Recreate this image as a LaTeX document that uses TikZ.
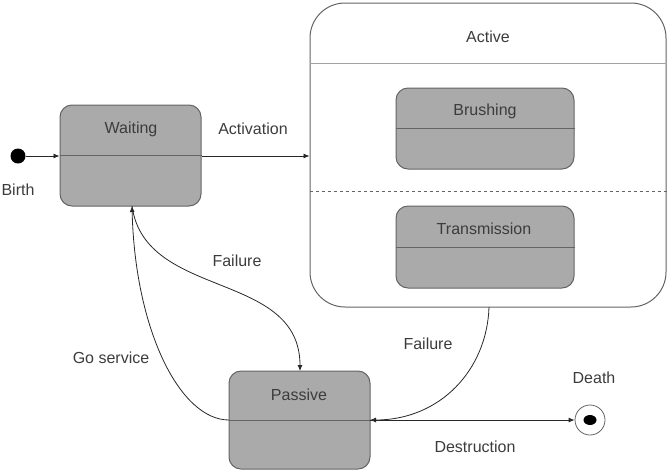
\documentclass[tikz,border=0pt]{standalone}
\usepackage{fontspec}
\setmainfont{Liberation Sans}
\usetikzlibrary{arrows.meta,shapes.geometric}
\definecolor{boxfill}{RGB}{170,170,170}
\definecolor{boxline}{RGB}{100,100,100}
\definecolor{txt}{RGB}{60,60,60}
\definecolor{edge}{RGB}{40,40,40}
\begin{document}
\begin{tikzpicture}[x=1pt,y=-1pt,
  font=\fontsize{16}{18}\selectfont,
  statebox/.style={draw=boxline,fill=boxfill,rounded corners=12pt,line width=1pt,inner sep=0pt},
  lbl/.style={text=txt,inner sep=0pt},
  conn/.style={draw=edge,line width=0.8pt,-{Latex[length=6pt,width=5pt]}},
  divider/.style={draw=boxline,line width=0.8pt}]
\useasboundingbox (0,0) rectangle (668,472);
% Active composite state
\node[draw=boxline,line width=1pt,rounded corners=35pt,minimum width=356pt,minimum height=304pt,inner sep=0pt] (act) at (488,155) {};
\draw[draw=boxline!60,line width=0.8pt] (act.west |- 0,63) -- (act.east |- 0,63);
\draw[draw=boxline,line width=0.8pt,dashed] (act.west |- 0,191) -- (act.east |- 0,191);
\node[lbl] (actl) at (488,37) {Active};
% Brushing
\node[statebox,minimum width=178pt,minimum height=81pt] (br) at (485,128.5) {};
\draw[divider] (br.west |- 0,128) -- (br.east |- 0,128);
\node[lbl] (brl) at (485,111) {Brushing};
% Transmission
\node[statebox,minimum width=178pt,minimum height=82pt] (tr) at (485,247) {};
\draw[divider] (tr.west |- 0,247) -- (tr.east |- 0,247);
\node[lbl] (trl) at (484,229) {Transmission};
% Waiting
\node[statebox,minimum width=141pt,minimum height=101pt] (w) at (130.5,155.5) {};
\draw[divider] (w.west |- 0,155) -- (w.east |- 0,155);
\node[lbl] (wl) at (131,129) {Waiting};
% Passive
\node[statebox,minimum width=141pt,minimum height=98pt] (p) at (299.5,420) {};
\draw[divider] (p.west |- 0,420) -- (p.east |- 0,420);
\node[lbl] (pl) at (299,395) {Passive};
% Birth
\node[circle,fill=black,minimum size=15pt,inner sep=0pt] (birth) at (18,156) {};
\node[lbl] (birthl) at (18,190) {Birth};
% Death
\node[circle,draw=boxline,line width=0.8pt,fill=white,minimum size=30pt,inner sep=0pt] (death) at (590,420) {};
\node[ellipse,fill=black,minimum width=13pt,minimum height=10pt,inner sep=0pt] (deathin) at (590,420) {};
\node[lbl] (deathl) at (594,378) {Death};
% connectors
\draw[conn] (birth) -- (w.west |- birth);
\draw[conn] (w.east |- 0,156) -- (act.west |- 0,156);
\node[lbl] (activ) at (253,129) {Activation};
\coordinate (wbot) at (132,206);
\coordinate (ptop) at (300,371);
\coordinate (pwest) at (229,420);
\coordinate (peast) at (370,420);
\coordinate (abot) at (489,307);
\draw[conn] (wbot) .. controls (145,300) and (300,270) .. (ptop);
\node[lbl] (fail1) at (237,261) {Failure};
\draw[conn] (pwest) .. controls (180,420) and (135,330) .. (wbot);
\node[lbl] (gos) at (111,358) {Go service};
\draw[conn] (abot) .. controls (487,370) and (440,420) .. (peast);
\node[lbl] (fail2) at (428,344) {Failure};
\draw[conn] (peast) -- (death.west);
\node[lbl] (destr) at (475,447) {Destruction};
\end{tikzpicture}
\end{document}
